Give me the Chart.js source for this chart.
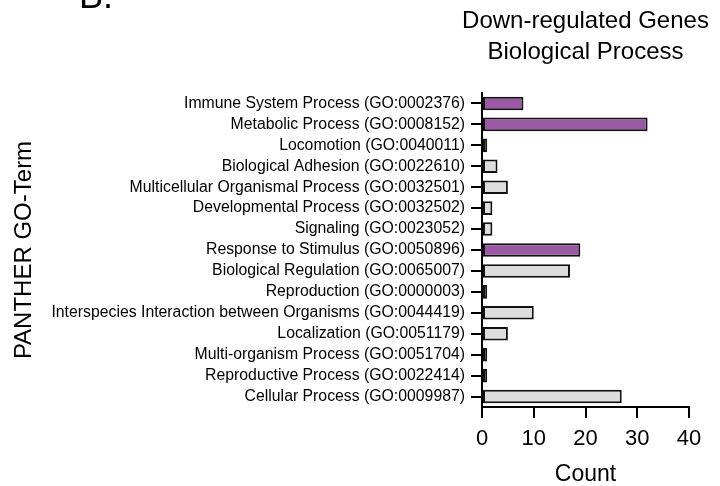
<!DOCTYPE html>
<html>
<head>
<meta charset="utf-8">
<script src="https://cdn.jsdelivr.net/npm/chart.js@4.4.1/dist/chart.umd.min.js"></script>
<style>
  html, body { margin: 0; padding: 0; background: #fff; }
  canvas { display: block; }
</style>
</head>
<body>
<canvas id="chart" width="720" height="486"></canvas>
<script>
const categories = [
  'Immune System Process (GO:0002376)',
  'Metabolic Process (GO:0008152)',
  'Locomotion (GO:0040011)',
  'Biological Adhesion (GO:0022610)',
  'Multicellular Organismal Process (GO:0032501)',
  'Developmental Process (GO:0032502)',
  'Signaling (GO:0023052)',
  'Response to Stimulus (GO:0050896)',
  'Biological Regulation (GO:0065007)',
  'Reproduction (GO:0000003)',
  'Interspecies Interaction between Organisms (GO:0044419)',
  'Localization (GO:0051179)',
  'Multi-organism Process (GO:0051704)',
  'Reproductive Process (GO:0022414)',
  'Cellular Process (GO:0009987)'
];
const counts = [8, 32, 1, 3, 5, 2, 2, 19, 17, 1, 10, 5, 1, 1, 27];
const highlighted = [
  'Immune System Process (GO:0002376)',
  'Metabolic Process (GO:0008152)',
  'Response to Stimulus (GO:0050896)'
];
const countTicks = [0, 10, 20, 30, 40];
const titleLines = ['Down-regulated Genes', 'Biological Process'];
const panelLabel = 'B.';

const FONT = 'Arial, "Liberation Sans", Helvetica, sans-serif';
const PURPLE = '#9b59a5';
const GREY = '#dddddd';

// titles and panel letter drawn above the plot area
const headerPlugin = {
  id: 'header',
  afterDraw (chart) {
    const { ctx, chartArea } = chart;
    const cx = (chartArea.left + chartArea.right) / 2;
    ctx.save();
    ctx.fillStyle = '#000';
    ctx.textBaseline = 'alphabetic';
    ctx.textAlign = 'left';
    ctx.font = '36px ' + FONT;
    ctx.fillText(panelLabel, 79, 8);
    ctx.textAlign = 'center';
    ctx.font = '24px ' + FONT;
    ctx.fillText(titleLines[0], cx, 28);
    ctx.fillText(titleLines[1], cx, 59);
    ctx.restore();
  }
};

const chart = new Chart(document.getElementById('chart'), {
  type: 'bar',
  data: {
    labels: categories,
    datasets: [{
      data: counts,
      backgroundColor: categories.map(c => highlighted.includes(c) ? PURPLE : GREY),
      borderColor: '#111',
      borderWidth: 2,
      borderSkipped: false,
      barPercentage: 0.65,
      categoryPercentage: 1
    }]
  },
  options: {
    indexAxis: 'y',
    responsive: false,
    animation: false,
    layout: { padding: { top: 93, right: 31, left: 0, bottom: 0 } },
    plugins: {
      legend: { display: false },
      tooltip: { enabled: false }
    },
    scales: {
      x: {
        min: countTicks[0],
        max: countTicks[countTicks.length - 1],
        afterFit (scale) { scale.height = 79; },
        afterBuildTicks (scale) { scale.ticks = countTicks.map(v => ({ value: v })); },
        grid: { drawOnChartArea: false, drawTicks: true, tickLength: 11, color: '#000', lineWidth: 2 },
        border: { color: '#000', width: 2 },
        ticks: { color: '#000', padding: 8, font: { family: FONT, size: 22 } },
        title: {
          display: true,
          text: 'Count',
          color: '#000',
          padding: 0,
          font: { family: FONT, size: 23, lineHeight: 1 }
        }
      },
      y: {
        afterFit (scale) { scale.width = 482; },
        grid: { drawOnChartArea: false, drawTicks: true, tickLength: 11, color: '#000', lineWidth: 2, offset: false },
        border: { color: '#000', width: 2 },
        ticks: { color: '#000', padding: 6, autoSkip: false, font: { family: FONT, size: 15.8 } },
        title: {
          display: true,
          text: 'PANTHER GO-Term',
          color: '#000',
          padding: { top: 10, bottom: 0 },
          font: { family: FONT, size: 24, lineHeight: 1.2 }
        }
      }
    }
  },
  plugins: [headerPlugin]
});
</script>
</body>
</html>
